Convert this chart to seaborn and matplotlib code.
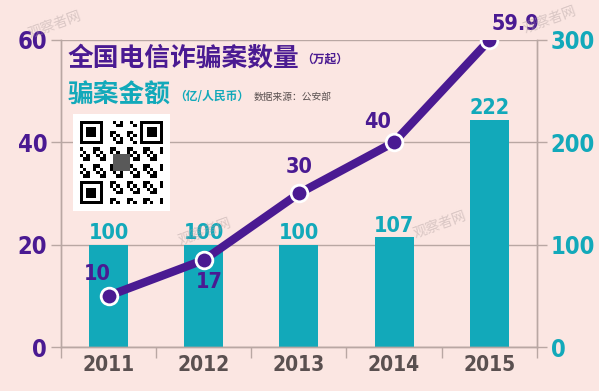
import numpy as np
import pandas as pd
import matplotlib.pyplot as plt
import seaborn as sns

# 데이터
years = ['2011', '2012', '2013', '2014', '2015']
cases = [10, 17, 30, 40, 59.9]          # 万起 (left axis)
amount = [100, 100, 100, 107, 222]      # 亿/人民币 (right axis)

left_ticks = [0, 20, 40, 60]
right_ticks = [0, 100, 200, 300]

BG = '#FBE6E2'
TEAL = '#12A9BA'
PURPLE = '#4A1A92'
GRID = '#B9A7A3'
GRAY = '#5A5050'

sns.set_theme(style='white')
plt.rcParams['font.family'] = ['DejaVu Sans']
plt.rcParams['font.stretch'] = 'condensed'
num_font = ['DejaVu Sans']
cjk_font = ['Noto Sans CJK SC', 'DejaVu Sans']

df = pd.DataFrame({'year': years, 'cases': cases, 'amount': amount})

fig = plt.figure(figsize=(5.99, 3.91), dpi=100, facecolor=BG)
ax = fig.add_axes([0.102, 0.1125, 0.794, 0.7855])
ax2 = ax.twinx()
ax.set_zorder(ax2.get_zorder() + 1)
ax.patch.set_visible(False)
ax2.set_facecolor(BG)

# 막대 (금액)
sns.barplot(data=df, x='year', y='amount', color=TEAL, width=0.41,
            saturation=1, linewidth=0, ax=ax2, zorder=2)
ax2.bar_label(ax2.containers[0], labels=[str(v) for v in amount], padding=1,
              color=TEAL, fontsize=15.5, fontweight='bold', family=num_font,
              fontstretch='condensed')
ax2.set_ylim(0, 300)
ax2.set_yticks(right_ticks)
for t in right_ticks:
    ax2.axhline(t, color=GRID, lw=1, zorder=0)

# 선 (건수)
sns.lineplot(data=df, x='year', y='cases', color=PURPLE, lw=6, ax=ax,
             marker='o', markersize=12, markerfacecolor=PURPLE,
             markeredgecolor='white', markeredgewidth=2, zorder=5)
ax.set_ylim(0, 60)
ax.set_yticks(left_ticks)
ax.set_xlim(-0.5, 4.5)

offsets = [(-11, 22), (5, -22), (0, 26), (-16, 20), (26, 16)]
for i, (v, off) in enumerate(zip(cases, offsets)):
    ax.annotate(f'{v:g}', (i, v), xytext=off, textcoords='offset pixels',
                ha='center', va='center', color=PURPLE, fontsize=15.5,
                fontweight='bold', family=num_font, fontstretch='condensed',
                zorder=6)

# 축 스타일
for a in (ax, ax2):
    a.set_xlabel('')
    a.set_ylabel('')
    a.spines['top'].set_visible(False)
    for s in ('left', 'right', 'bottom'):
        a.spines[s].set_color(GRID)
        a.spines[s].set_linewidth(1)

ax.tick_params(axis='y', left=True, length=7, color=GRID, width=1,
               labelsize=17, labelcolor=PURPLE, pad=3)
ax2.tick_params(axis='y', right=True, length=7, color=GRID, width=1,
                labelsize=17, labelcolor=TEAL, pad=3)
for lab in ax.get_yticklabels() + ax2.get_yticklabels():
    lab.set_fontweight('bold')
    lab.set_fontstretch('condensed')

ax.set_xticks(range(len(years)))
ax.set_xticklabels(years)
ax.set_xticks(np.arange(-0.5, len(years), 1.0), minor=True)
ax.tick_params(axis='x', which='major', length=0, labelsize=15,
               labelcolor=GRAY, pad=6)
ax.tick_params(axis='x', which='minor', bottom=True, length=8, color=GRID, width=1)
for lab in ax.get_xticklabels():
    lab.set_fontweight('bold')
    lab.set_fontstretch('condensed')
ax2.tick_params(axis='x', length=0, labelbottom=False)

# 제목
fig.text(0.113, 0.853, '全国电信诈骗案数量', color=PURPLE, fontsize=18.5,
         fontweight='heavy', family=cjk_font, va='center')
fig.text(0.503, 0.848, '（万起）', color=PURPLE, fontsize=8.5,
         fontweight='heavy', family=cjk_font, va='center')
fig.text(0.113, 0.757, '骗案金额', color=TEAL, fontsize=18.5,
         fontweight='heavy', family=cjk_font, va='center')
fig.text(0.290, 0.752, '（亿/人民币）', color=TEAL, fontsize=8.5,
         fontweight='heavy', family=cjk_font, va='center')
fig.text(0.423, 0.752, '数据来源：公安部', color=GRAY, fontsize=7,
         family=cjk_font, va='center')

# QR 코드 자리
qr_ax = fig.add_axes([73 / 599, 1 - 211 / 391, 97 / 599, 97 / 391])
n = 25
grid = np.ones((n, n))
ii, jj = np.meshgrid(np.arange(n), np.arange(n), indexing='ij')
pattern = ((ii * 7 + jj * 13 + ii * jj) % 5) < 2
grid[pattern] = 0
for (r, c) in [(0, 0), (0, n - 7), (n - 7, 0)]:
    grid[r:r + 7, c:c + 7] = 0
    grid[r + 1:r + 6, c + 1:c + 6] = 1
    grid[r + 2:r + 5, c + 2:c + 5] = 0
    grid[max(r - 1, 0):r + 8, c + 7 if c == 0 else c - 1] = 1
    grid[r + 7 if r == 0 else r - 1, max(c - 1, 0):c + 8] = 1
grid[10:15, 10:15] = 0.35
padded = np.ones((n + 4, n + 4))
padded[2:-2, 2:-2] = grid
qr_ax.imshow(padded, cmap='gray', vmin=0, vmax=1, interpolation='nearest')
qr_ax.axis('off')

# 워터마크
for (x, y) in [(55, 25), (550, 20), (205, 232), (440, 225)]:
    fig.text(x / 599, 1 - y / 391, '观察者网', color='#B0A0A0', alpha=0.45,
             fontsize=10, rotation=20, family=cjk_font,
             ha='center', va='center')

fig.savefig('out.png', dpi=100, facecolor=BG)
